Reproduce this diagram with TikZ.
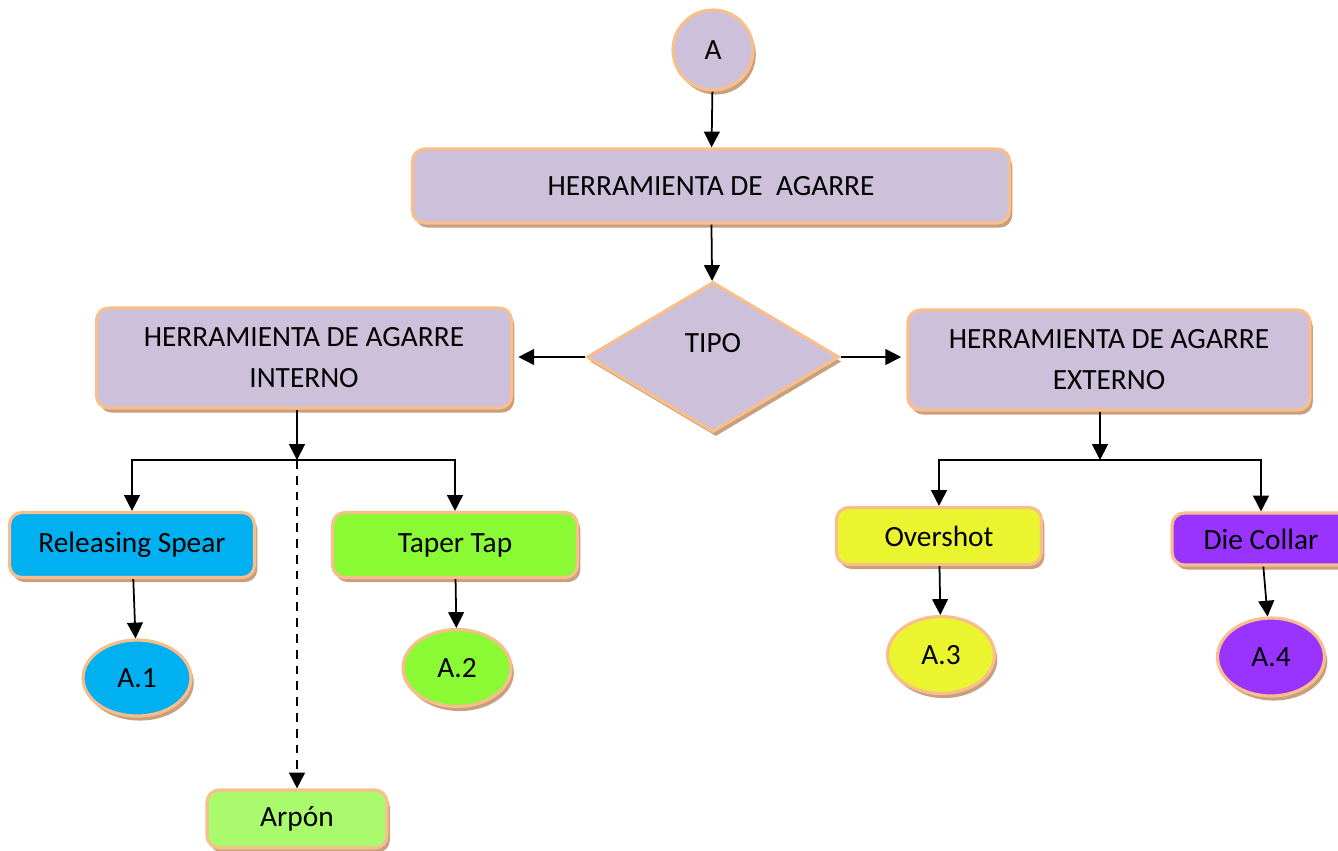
\documentclass[tikz,border=0pt]{standalone}
\usepackage{fontspec}
\setmainfont{Carlito}
\usetikzlibrary{arrows.meta, shapes.geometric, shadows, positioning}
\definecolor{lila}{RGB}{204,192,218}
\definecolor{peach}{RGB}{248,190,140}
\definecolor{shadowc}{RGB}{200,160,125}
\definecolor{cyanbox}{RGB}{0,176,240}
\definecolor{greenbox}{RGB}{138,250,52}
\definecolor{lightgreen}{RGB}{170,250,110}
\definecolor{yellowbox}{RGB}{234,245,48}
\definecolor{purplebox}{RGB}{153,51,255}
\tikzset{
    base/.style={draw=peach, line width=1.8pt, align=center, inner sep=0pt,
        font=\fontsize{16.7}{23.3}\selectfont,
        drop shadow={shadow xshift=1.6pt, shadow yshift=-2.6pt, fill=shadowc, opacity=1}},
    toolbox/.style={base, rectangle, rounded corners=7pt},
    endcircle/.style={base, ellipse},
    arr/.style={-{Triangle[length=9pt, width=9pt]}, line width=1pt}
}
\begin{document}
\begin{tikzpicture}[x=0.02cm, y=-0.02cm]
    \useasboundingbox (0,0) rectangle (1338,850);
    \node[endcircle, fill=lila, minimum width=1.6cm, minimum height=1.6cm] (a) at (713,50) {A};
    \node[toolbox, fill=lila, minimum width=11.94cm, minimum height=1.48cm] (agarre) at (711,186) {HERRAMIENTA DE \ AGARRE};
    \node[base, diamond, fill=lila, minimum width=5.04cm, minimum height=3cm,
        label={[font=\fontsize{16.7}{20}\selectfont, yshift=8pt]center:TIPO}] (tipo) at (713,357) {};
    \node[toolbox, fill=lila, minimum width=8.3cm, minimum height=2cm] (interno) at (304,358) {HERRAMIENTA DE AGARRE\\INTERNO};
    \node[toolbox, fill=lila, minimum width=8.04cm, minimum height=2cm] (externo) at (1109,360) {HERRAMIENTA DE AGARRE\\EXTERNO};
    \node[toolbox, fill=cyanbox, minimum width=4.9cm, minimum height=1.3cm] (spear) at (132,545) {Releasing Spear};
    \node[toolbox, fill=greenbox, minimum width=4.9cm, minimum height=1.3cm] (taper) at (455,545) {Taper Tap};
    \node[toolbox, fill=lightgreen, minimum width=3.6cm, minimum height=1.16cm] (arpon) at (297,819) {Arpón};
    \node[toolbox, fill=yellowbox, minimum width=4.1cm, minimum height=1.14cm] (overshot) at (939,536) {Overshot};
    \node[toolbox, fill=purplebox, minimum width=3.56cm, minimum height=1.04cm] (diecollar) at (1261,539) {Die Collar};
    \node[endcircle, fill=cyanbox, minimum width=2.16cm, minimum height=1.52cm] (a1) at (137,678) {A.1};
    \node[endcircle, fill=greenbox, minimum width=2.16cm, minimum height=1.54cm] (a2) at (457,668) {A.2};
    \node[endcircle, fill=yellowbox, minimum width=2.14cm, minimum height=1.54cm] (a3) at (941,655) {A.3};
    \node[endcircle, fill=purplebox, minimum width=2.14cm, minimum height=1.56cm] (a4) at (1271,657) {A.4};
    \coordinate (jl) at (297,460);
    \coordinate (jr) at (1100,460);
    \draw[arr] (a) -- (agarre);
    \draw[arr] (agarre) -- (tipo);
    \draw[arr] (tipo.west) -- ([xshift=3pt]tipo.west -| interno.east);
    \draw[arr] (tipo.east) -- ([xshift=-3pt]tipo.east -| externo.west);
    \draw[arr] (interno.south -| jl) -- (jl);
    \draw[arr] (jl) -| (spear);
    \draw[arr] (jl) -| (taper);
    \draw[arr, dash pattern=on 5pt off 4pt] (jl) -- (arpon);
    \draw[arr] (externo.south -| jr) -- (jr);
    \draw[arr] (jr) -| (overshot);
    \draw[arr] (jr) -| (diecollar);
    \draw[arr] (spear) -- (a1);
    \draw[arr] (taper) -- (a2);
    \draw[arr] (overshot) -- (a3);
    \draw[arr] (diecollar) -- (a4);
\end{tikzpicture}
\end{document}
